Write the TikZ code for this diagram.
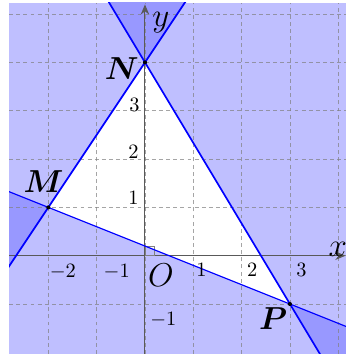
\documentclass[tikz,border=0pt]{standalone}
\usepackage{amsmath,amssymb}
\usepackage{tikz}
\usetikzlibrary{arrows.meta,calc}
\definecolor{regionlight}{RGB}{191,191,255}
\definecolor{regiondark}{RGB}{152,152,255}
\tikzset{
  gridline/.style={black!50, opacity=0.7, dash pattern=on 2.3pt off 1.9pt, line width=0.5pt},
  bound/.style={blue, line width=1pt},
  axisline/.style={black!65, line width=0.6pt, -{Stealth[length=6pt,width=5pt]}},
  ticklab/.style={font=\normalsize, scale=1.2},
  ptlab/.style={font=\Large, scale=1.3},
  axlab/.style={font=\Large, scale=1.35},
}

\begin{document}
\begin{tikzpicture}
\useasboundingbox (-3.0,-2.034) rectangle (4.159,5.291);
\coordinate (M) at (-2,1);
\coordinate (N) at (0,4);
\coordinate (P) at (3,-1);

% Regions
\begin{scope}
\clip (-2.81,-2.034) rectangle (4.159,5.235);
\fill[regionlight] (-2.81,-2.034) rectangle (4.159,5.235);
\fill[white] (M) -- (N) -- (P) -- cycle;
\fill[regiondark] (N) -- ($(M)!3!(N)$) -- ($(P)!3!(N)$) -- cycle;
\fill[regiondark] (M) -- ($(N)!3!(M)$) -- ($(P)!3!(M)$) -- cycle;
\fill[regiondark] (P) -- ($(N)!3!(P)$) -- ($(M)!3!(P)$) -- cycle;

% Grid
\foreach \x in {-2,...,4} \draw[gridline] (\x,-2.034) -- (\x,5.235);
\foreach \y in {-1,...,5} \draw[gridline] (-2.81,\y) -- (4.159,\y);

% Axes
\draw[axisline] (-2.81,0) -- (4.15,0);
\draw[axisline] (0,-2.034) -- (0,5.2);
\draw[gray, line width=0.4pt] (0,0) rectangle (0.19,0.19);

% Boundary lines
\draw[bound] ($(M)!-3!(N)$) -- ($(M)!3!(N)$);
\draw[bound] ($(N)!-3!(P)$) -- ($(N)!3!(P)$);
\draw[bound, line width=0.7pt] ($(M)!-3!(P)$) -- ($(M)!3!(P)$);
\end{scope}

% Points
\fill (M) circle (1.2pt);
\fill (N) circle (1.2pt);
\fill (P) circle (1.2pt);
\node[ptlab] (labM) at (-2.10,1.53) {$\boldsymbol{M}$};
\node[ptlab] (labN) at (-0.48,3.88) {$\boldsymbol{N}$};
\node[ptlab] (labP) at (2.65,-1.31) {$\boldsymbol{P}$};

% Axis labels
\node[axlab] (labx) at (3.99,0.14) {$x$};
\node[axlab] (laby) at (0.33,4.82) {$y$};
\node[axlab] (labO) at (0.33,-0.40) {$O$};

% Ticks
\node[ticklab] (tx1) at (-1.70,-0.33) {$-2$}; \node[ticklab] (tx2) at (-0.585,-0.33) {$-1$};
\node[ticklab] (tx3) at (1.17,-0.30) {$1$}; \node[ticklab] (tx4) at (2.22,-0.30) {$2$}; \node[ticklab] (tx5) at (3.24,-0.30) {$3$};
\node[ticklab] (ty1) at (-0.22,3.13) {$3$}; \node[ticklab] (ty2) at (-0.24,2.15) {$2$};
\node[ticklab] (ty3) at (-0.24,1.20) {$1$}; \node[ticklab] (ty4) at (0.38,-1.33) {$-1$};
\end{tikzpicture}
\end{document}
